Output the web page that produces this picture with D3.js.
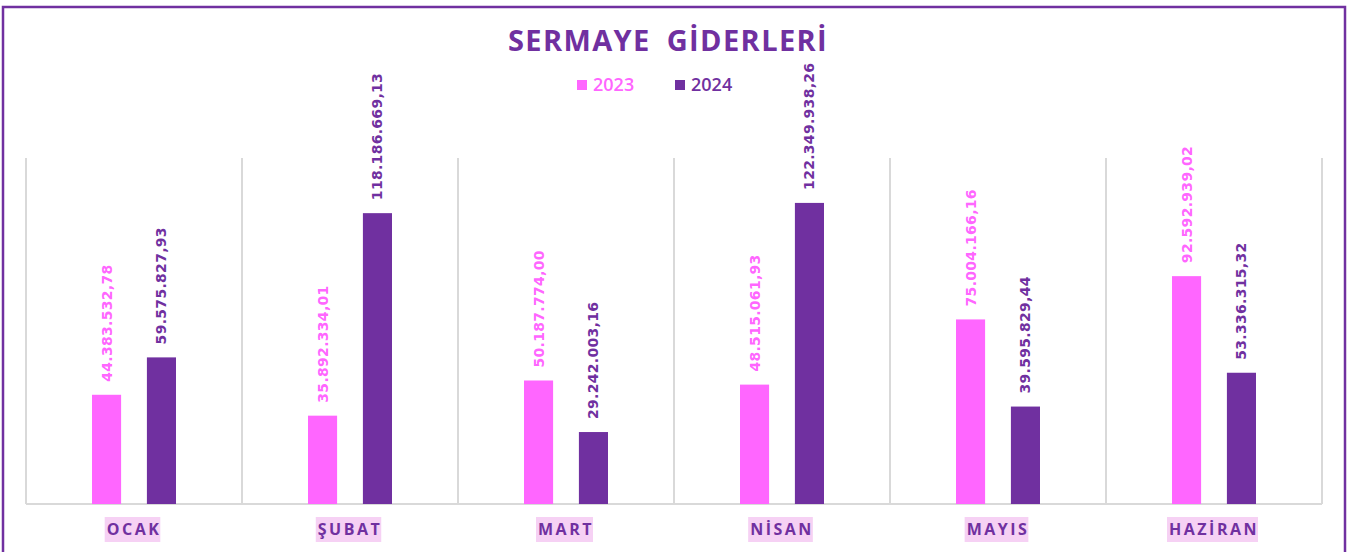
<!DOCTYPE html>
<html>
<head>
<meta charset="utf-8">
<script src="https://cdn.jsdelivr.net/npm/d3@7"></script>
<style>
  body { margin: 0; background: #fff; }
</style>
</head>
<body>
<div id="chart"></div>
<script>
// Data
var months = ['OCAK', 'ŞUBAT', 'MART', 'NİSAN', 'MAYIS', 'HAZİRAN'];
var years = ['2023', '2024'];
var values2023 = [44383532.78, 35892334.01, 50187774.00, 48515061.93, 75004166.16, 92592939.02];
var values2024 = [59575827.93, 118186669.13, 29242003.16, 122349938.26, 39595829.44, 53336315.32];
var colors = ['#FF66FF', '#7030A0'];

var W = 1358, H = 552;
var margin = { top: 158, right: 36, bottom: 48, left: 26 };
var width = W - margin.left - margin.right,
    height = H - margin.top - margin.bottom;

var svg = d3.select('#chart').append('svg')
    .attr('width', W)
    .attr('height', H);

// outer frame
svg.append('rect')
    .attr('x', 3).attr('y', 7)
    .attr('width', 1342).attr('height', 560)
    .attr('fill', 'none')
    .attr('stroke', '#7030A0')
    .attr('stroke-width', 2.5);

var g = svg.append('g')
    .attr('transform', `translate(${margin.left}, ${margin.top})`);

var x = d3.scaleBand()
    .domain(months)
    .range([0, width])
    .paddingInner(0)
    .paddingOuter(0);

var x1 = d3.scaleBand()
    .domain(years)
    .range([66, 150])
    .paddingInner(0.47)
    .paddingOuter(0);

var y = d3.scaleLinear()
    .domain([0, 140600000])
    .range([height, 0]);

// vertical separators between categories
g.selectAll('.sep')
    .data(d3.range(months.length + 1))
    .enter().append('line')
    .attr('x1', i => i * x.bandwidth())
    .attr('x2', i => i * x.bandwidth())
    .attr('y1', 0)
    .attr('y2', height)
    .attr('stroke', '#D9D9D9')
    .attr('stroke-width', 2);

// baseline
g.append('line')
    .attr('x1', 0).attr('x2', width)
    .attr('y1', height).attr('y2', height)
    .attr('stroke', '#D9D9D9')
    .attr('stroke-width', 2);

var series = [values2023, values2024];

series.forEach(function (vals, si) {
    var rows = months.map((m, i) => ({ m: m, v: vals[i] }));

    g.selectAll('.bar' + si)
        .data(rows)
        .enter().append('rect')
        .attr('x', d => x(d.m) + x1(years[si]))
        .attr('y', d => y(d.v))
        .attr('width', x1.bandwidth())
        .attr('height', d => height - y(d.v))
        .attr('fill', colors[si]);

    g.selectAll('.lbl' + si)
        .data(rows)
        .enter().append('text')
        .attr('transform', d => `translate(${x(d.m) + x1(years[si]) + x1.bandwidth() / 2 + 5}, ${y(d.v) - 13}) rotate(-90)`)
        .attr('text-anchor', 'start')
        .style('fill', colors[si])
        .style('font-family', 'DejaVu Sans')
        .style('font-size', '14px')
        .style('font-weight', '700')
        .style('letter-spacing', '0.3px')
        .text(d => d3.format(',.2f')(d.v).replace(/,/g, '#').replace('.', ',').replace(/#/g, '.'));
});

// category labels with highlight
var cat = g.selectAll('.cat')
    .data(months)
    .enter().append('g')
    .attr('transform', d => `translate(${x(d) + x.bandwidth() / 2}, ${height + 25})`);

cat.append('text')
    .attr('text-anchor', 'middle')
    .attr('dy', '0.36em')
    .style('fill', '#7030A0')
    .style('font-family', 'Open Sans')
    .style('font-size', '16px')
    .style('font-weight', '700')
    .style('letter-spacing', '2.5px')
    .text(d => d);

cat.each(function () {
    var t = d3.select(this).select('text');
    var b = t.node().getBBox();
    d3.select(this).insert('rect', 'text')
        .attr('x', b.x - 2)
        .attr('y', -12)
        .attr('width', b.width + 1)
        .attr('height', 25)
        .attr('fill', '#F6D1F4');
});

// title
svg.append('text')
    .attr('x', 668)
    .attr('y', 51)
    .attr('text-anchor', 'middle')
    .style('fill', '#7030A0')
    .style('font-family', 'Open Sans')
    .style('font-size', '29px')
    .style('font-weight', '700')
    .style('letter-spacing', '1.4px')
    .style('word-spacing', '7px')
    .text('SERMAYE GİDERLERİ');

// legend
var legend = svg.append('g');
var legendX = [577, 675];
years.forEach(function (yr, i) {
    legend.append('rect')
        .attr('x', legendX[i])
        .attr('y', 80)
        .attr('width', 10)
        .attr('height', 10)
        .attr('fill', colors[i]);
    legend.append('text')
        .attr('x', legendX[i] + 16)
        .attr('y', 85)
        .attr('dy', '0.35em')
        .style('fill', colors[i])
        .style('font-family', 'Open Sans')
        .style('font-size', '18px')
        .style('font-weight', '600')
        .text(yr);
});
</script>
</body>
</html>
